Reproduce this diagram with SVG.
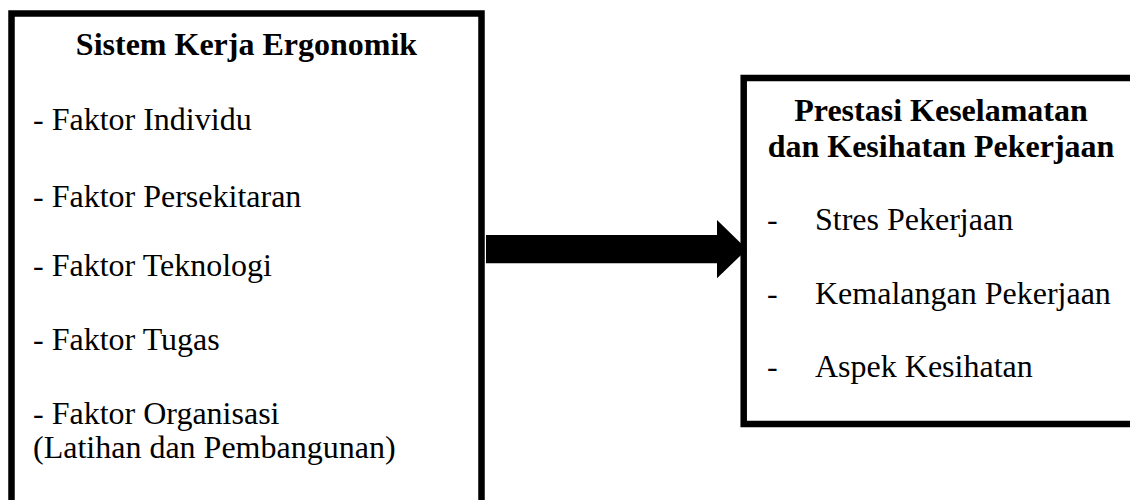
<svg xmlns="http://www.w3.org/2000/svg" width="1130" height="500" viewBox="0 0 1130 500">
  <style>
    .box { fill: #ffffff; stroke: #000000; stroke-width: 6.5; }
    .txt { font-family: "Liberation Serif", "Times New Roman", serif; font-size: 32px; fill: #000000; }
    .head { font-weight: bold; text-anchor: middle; }
    .arrow { fill: #000000; stroke: none; }
  </style>
  <rect x="0" y="0" width="1130" height="500" fill="#ffffff"/>

  <!-- Left node: ergonomic work system factors -->
  <g id="sistem-kerja">
    <rect class="box" x="11.5" y="13.5" width="470" height="520"/>
    <text class="txt head" x="246.5" y="55">Sistem Kerja Ergonomik</text>
    <text class="txt" x="33" y="130">- Faktor Individu</text>
    <text class="txt" x="33" y="207">- Faktor Persekitaran</text>
    <text class="txt" x="33" y="276">- Faktor Teknologi</text>
    <text class="txt" x="33" y="350">- Faktor Tugas</text>
    <text class="txt" x="33" y="424">- Faktor Organisasi</text>
    <text class="txt" x="33" y="458">(Latihan dan Pembangunan)</text>
  </g>

  <!-- Right node: safety and health performance -->
  <g id="prestasi-kkp">
    <rect class="box" x="743.7" y="78" width="420" height="346"/>
    <text class="txt head" x="941" y="121">Prestasi Keselamatan</text>
    <text class="txt head" x="941" y="157">dan Kesihatan Pekerjaan</text>
    <text class="txt" x="767" y="230">-</text>
    <text class="txt" x="815" y="230">Stres Pekerjaan</text>
    <text class="txt" x="767" y="303.5">-</text>
    <text class="txt" x="815" y="303.5">Kemalangan Pekerjaan</text>
    <text class="txt" x="767" y="377">-</text>
    <text class="txt" x="815" y="377">Aspek Kesihatan</text>
  </g>

  <!-- Connectors -->
  <g id="connectors">
    <polygon class="arrow" points="486,235 717,235 717,220 747,249.3 717,278.3 717,263.3 486,263.3"/>
  </g>
</svg>
